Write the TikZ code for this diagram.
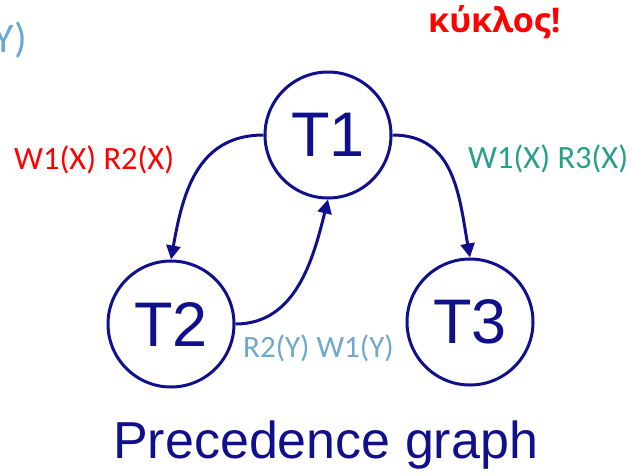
\documentclass[tikz,border=0pt]{standalone}
\usepackage{fontspec}
\setmainfont{Carlito}
\newfontfamily\arialfont{Liberation Sans}
\newfontfamily\grasfont{Open Sans}
\usetikzlibrary{arrows.meta}

\definecolor{navy}{RGB}{16,16,140}
\definecolor{rouge}{RGB}{255,0,0}
\definecolor{sarcelle}{RGB}{38,160,138}
\definecolor{bleuclair}{RGB}{110,168,206}

\begin{document}
\begin{tikzpicture}[
        x=1pt, y=-1pt,
        trans/.style={
            draw=navy,
            circle,
            line width=3pt,
            minimum size=126pt,
            inner sep=0pt,
            text=navy,
            font=\arialfont\fontsize{63}{63}\selectfont
        },
        label/.style={
            inner sep=0pt,
            anchor=base west,
            font=\fontsize{32.5}{32.5}\selectfont
        },
        arrow/.style={-{Triangle[length=14pt,width=14pt]}, line width=3pt, draw=navy}
    ]

        % Cadre de l'image
        \useasboundingbox (0,0) rectangle (632,475);

        % Transactions
        \node[trans] (t1) at (328,135) {T1};
        \node[trans] (t2) at (171,324) {T2};
        \node[trans] (t3) at (470,322) {T3};

        % Arcs du graphe
        \draw[arrow] (t1.west) to[out=180, in=80, looseness=1.1] (t2.north);
        \draw[arrow] (t2.east) to[out=0, in=-104] (t1.south);
        \draw[arrow] (t1.east) to[out=0, in=100, looseness=1.1] (t3.north);

        % Conflits
        \node[label, text=rouge] (w1r2x) at (14,169) {W1(X) R2(X)};
        \node[label, text=sarcelle] (w1r3x) at (468,168) {W1(X) R3(X)};
        \node[label, text=bleuclair, font=\fontsize{31}{31}\selectfont]
            (r2w1y) at (243,357) {R2(Y) W1(Y)};
        \node[label, text=bleuclair, anchor=base east, font=\fontsize{42}{42}\selectfont]
            (reste) at (27,52) {Y)};
        \node[label, text=rouge, font=\grasfont\bfseries\fontsize{34}{34}\selectfont]
            (cycle) at (428,32) {κύκλος!};

        % Titre
        \node[label, text=navy, font=\arialfont\fontsize{52}{52}\selectfont]
            (titre) at (113,458) {Precedence graph};

    \end{tikzpicture}
\end{document}
